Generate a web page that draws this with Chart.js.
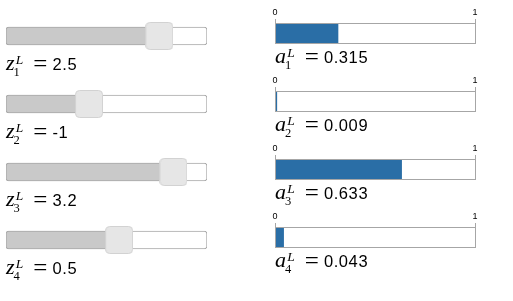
<!DOCTYPE html>
<html>
<head>
<meta charset="utf-8">
<script src="https://cdn.jsdelivr.net/npm/chart.js@4.4.1/dist/chart.umd.min.js"></script>
<style>
body { margin: 0; background: #fff; width: 513px; height: 301px; position: relative; overflow: hidden; }
canvas { position: absolute; }
.lbl { position: absolute; white-space: nowrap; line-height: 20px; color: #000; }
.mi { font-family: "Liberation Serif", serif; font-style: italic; font-size: 22px; }
.sb { font-family: "Liberation Serif", serif; font-size: 12.5px; vertical-align: -6px; margin-left: -1px; }
.sp { font-family: "Liberation Serif", serif; font-style: italic; font-size: 13.5px; vertical-align: 6px; margin-left: -4px; }
.eq { font-family: "Liberation Serif", serif; font-size: 25px; vertical-align: -2px; margin-left: 10px; margin-right: 5px; }
.num { font-family: "Liberation Sans", Arial, sans-serif; font-size: 16.5px; letter-spacing: 0.6px; }
</style>
</head>
<body>
<script>
const subs = ['1', '2', '3', '4'];
const zValues = [2.5, -1, 3.2, 0.5];
const aValues = [0.315, 0.009, 0.633, 0.043];
const aTicks = [0, 1];

const zMin = -5.13, zMax = 4.87; // slider scale as drawn

// thumb of the slider, used as point style
const thumb = document.createElement('canvas');
thumb.width = 28; thumb.height = 28;
const tc = thumb.getContext('2d');
tc.beginPath();
tc.roundRect(0.5, 0.5, 27, 27, 4);
tc.fillStyle = '#e6e6e6';
tc.fill();
tc.strokeStyle = '#d2d2d2';
tc.stroke();

// box round the bar charts
const boxBorder = {
    id: 'boxBorder',
    afterDatasetsDraw(chart) {
        const a = chart.chartArea, ctx = chart.ctx;
        ctx.save();
        ctx.strokeStyle = '#a6a6a6';
        ctx.lineWidth = 1;
        ctx.strokeRect(a.left + 0.5, a.top + 0.5, a.right - a.left, a.bottom - a.top - 1);
        ctx.restore();
    }
};

function mkCanvas(x, y, w, h) {
    const c = document.createElement('canvas');
    c.width = w; c.height = h;
    c.style.left = x + 'px'; c.style.top = y + 'px';
    c.style.width = w + 'px'; c.style.height = h + 'px';
    document.body.appendChild(c);
    return c;
}

function mkLabel(x, baseline, letter, sub, num) {
    const d = document.createElement('div');
    d.className = 'lbl';
    d.style.left = x + 'px';
    d.style.top = '0px';
    d.innerHTML = '<span class="mi">' + letter + '</span><span class="sb">' + sub +
        '</span><span class="sp">L</span><span class="eq">=</span><span class="num">' + num + '</span>';
    document.body.appendChild(d);
    const n = d.querySelector('.num').getBoundingClientRect();
    d.style.top = (baseline - (n.top + 0.905 * 16.5)) + 'px';
}

for (let i = 0; i < 4; i++) {
    const top = i * 68;
    const cat = 'z' + subs[i];

    new Chart(mkCanvas(0, top + 16, 215, 40), {
        type: 'bar',
        data: {
            labels: [cat],
            datasets: [{
                type: 'scatter',
                data: [{ x: zValues[i], y: cat }],
                pointStyle: thumb,
                pointRadius: 14,
                clip: false,
                order: 0
            }, {
                data: [[zMin, zValues[i]]],
                backgroundColor: '#c9c9c9',
                borderColor: '#aaaaaa',
                borderWidth: 1,
                borderSkipped: false,
                borderRadius: { topLeft: 3, bottomLeft: 3 },
                barThickness: 18,
                stack: 'slider',
                order: 1
            }, {
                data: [[zMin, zMax]],
                backgroundColor: '#ffffff',
                borderColor: '#aaaaaa',
                borderWidth: 1,
                borderSkipped: false,
                borderRadius: 3,
                barThickness: 18,
                stack: 'slider',
                order: 2
            }]
        },
        options: {
            indexAxis: 'y',
            responsive: false,
            animation: false,
            events: [],
            layout: { autoPadding: false, padding: { left: 6, right: 8, top: 0, bottom: 0 } },
            plugins: { legend: { display: false }, tooltip: { enabled: false } },
            scales: {
                x: { type: 'linear', min: zMin, max: zMax, stacked: false, display: false },
                y: { type: 'category', display: false }
            }
        }
    });
    mkLabel(6, top + 70, 'z', subs[i], String(zValues[i]));

    new Chart(mkCanvas(265, top + 4, 230, 40), {
        type: 'bar',
        data: {
            labels: ['a' + subs[i]],
            datasets: [{
                data: [aValues[i]],
                backgroundColor: '#2a6ea6',
                borderWidth: 0,
                barPercentage: 1,
                categoryPercentage: 1
            }]
        },
        options: {
            indexAxis: 'y',
            responsive: false,
            animation: false,
            events: [],
            layout: { padding: { left: 10, right: 20, top: 0, bottom: 0 } },
            plugins: { legend: { display: false }, tooltip: { enabled: false } },
            scales: {
                x: {
                    type: 'linear',
                    position: 'top',
                    min: aTicks[0],
                    max: aTicks[aTicks.length - 1],
                    afterFit: s => { s.height = 19; },
                    ticks: {
                        stepSize: 1,
                        padding: 1,
                        maxRotation: 0,
                        color: '#000',
                        font: { family: 'Liberation Sans', size: 9 }
                    },
                    grid: { drawOnChartArea: false, drawTicks: true, tickLength: 4, color: '#a6a6a6' },
                    border: { display: false }
                },
                y: { type: 'category', display: false }
            }
        },
        plugins: [boxBorder]
    });
    mkLabel(275, top + 63, 'a', subs[i], aValues[i].toFixed(3));
}
</script>
</body>
</html>
